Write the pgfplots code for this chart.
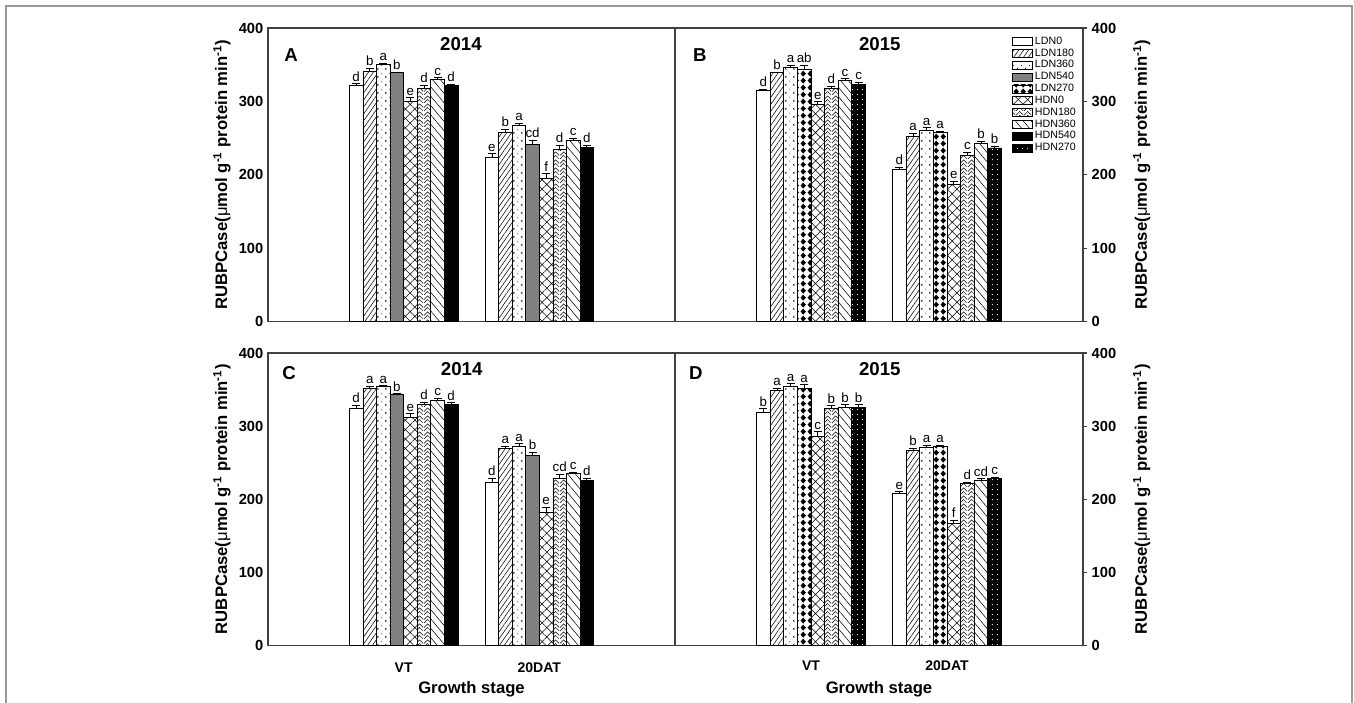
\documentclass[border=0pt]{standalone}
\usepackage{fontspec}
\setmainfont{Liberation Sans}
\usepackage{pgfplots}
\pgfplotsset{compat=1.18}
\usepackage{pgfplotstable}
\usetikzlibrary{patterns,patterns.meta}

\pgfdeclarepatternformonly{ldiam}{\pgfqpoint{0pt}{0pt}}{\pgfqpoint{5pt}{5.5pt}}{\pgfqpoint{5pt}{5.5pt}}{%
  \pgfpathmoveto{\pgfqpoint{2.5pt}{0.3pt}}%
  \pgfpathlineto{\pgfqpoint{4.6pt}{2.75pt}}%
  \pgfpathlineto{\pgfqpoint{2.5pt}{5.2pt}}%
  \pgfpathlineto{\pgfqpoint{0.4pt}{2.75pt}}%
  \pgfpathclose\pgfusepath{fill}}
\pgfdeclarepatternformonly{lmarks}{\pgfqpoint{0pt}{0pt}}{\pgfqpoint{6pt}{6pt}}{\pgfqpoint{6pt}{6pt}}{%
  \pgfsetlinewidth{0.4pt}%
  \pgfpathmoveto{\pgfqpoint{2pt}{2.6pt}}\pgfpathlineto{\pgfqpoint{1pt}{1.8pt}}\pgfpathlineto{\pgfqpoint{2pt}{1pt}}%
  \pgfusepath{stroke}%
  \pgfpathcircle{\pgfqpoint{4.5pt}{4.5pt}}{0.4pt}\pgfusepath{fill}}
\pgfdeclarepatternformonly{hchev}{\pgfqpoint{0pt}{0pt}}{\pgfqpoint{6pt}{6pt}}{\pgfqpoint{6pt}{6pt}}{%
  \pgfsetlinewidth{0.4pt}%
  \pgfpathmoveto{\pgfqpoint{0pt}{0pt}}\pgfpathlineto{\pgfqpoint{3pt}{3pt}}\pgfpathlineto{\pgfqpoint{6pt}{0pt}}%
  \pgfpathmoveto{\pgfqpoint{0pt}{3pt}}\pgfpathlineto{\pgfqpoint{3pt}{6pt}}\pgfpathlineto{\pgfqpoint{6pt}{3pt}}%
  \pgfusepath{stroke}}

\tikzset{
  sL0/.style={draw=black, fill=white},
  sL180/.style={draw=black, pattern={Lines[angle=55,distance=3pt,line width=0.4pt]}},
  sL360/.style={draw=black, pattern=lmarks},
  sL540/.style={draw=black, fill=black!50},
  sL270/.style={draw=black, pattern=ldiam},
  sH0/.style={draw=black, pattern={Hatch[angle=45,distance=5pt,line width=0.4pt]}},
  sH180/.style={draw=black, pattern=hchev},
  sH360/.style={draw=black, pattern={Lines[angle=-50,distance=4.5pt,line width=0.4pt]}},
  sH540/.style={draw=black, fill=black},
  sH270/.style={draw=black, fill=black, postaction={pattern={Dots[distance=4pt,radius=0.45pt]}, pattern color=white}},
}

% 2014, VT (x=1) and 20DAT (x=2): value, error, letter
\pgfplotstableread{
x L0 L0e L0l L180 L180e L180l L360 L360e L360l L540 L540e L540l H0 H0e H0l H180 H180e H180l H360 H360e H360l H540 H540e H540l
1 322 2 d 341 4 b 351 1.5 a 339.5 0.5 b 300 5 e 318 4 d 329.5 3 c 321.5 2 d
2 224 5 e 258 4 b 267 3 a 241 6 cd 195.5 6 f 234 6 d 247 3 c 237 3 d
}\tabA
% 2015
\pgfplotstableread{
x L0 L0e L0l L180 L180e L180l L360 L360e L360l L270 L270e L270l H0 H0e H0l H180 H180e H180l H360 H360e H360l H270 H270e H270l
1 315 2 d 339 1 b 346 3 a 344 5 ab 296.5 3 e 318 3 d 329 2 c 323.5 2.5 c
2 207 3 d 253 4 a 260 4 a 258 1 a 187.5 4 e 226 5 c 243 3 b 236.5 2.5 b
}\tabB
% 2014 (C)
\pgfplotstableread{
x L0 L0e L0l L180 L180e L180l L360 L360e L360l L540 L540e L540l H0 H0e H0l H180 H180e H180l H360 H360e H360l H540 H540e H540l
1 324 5 d 351.5 3.5 a 354 1.5 a 344 0.5 b 312 5 e 329.5 3 d 335.5 2.5 c 329.5 2.5 d
2 223 6 d 269.5 3.5 a 273 3 a 259.5 4.5 b 182 7 e 229 5 cd 235 2.5 c 226 2.5 d
}\tabC
% 2015 (D)
\pgfplotstableread{
x L0 L0e L0l L180 L180e L180l L360 L360e L360l L270 L270e L270l H0 H0e H0l H180 H180e H180l H360 H360e H360l H270 H270e H270l
1 318.5 5.5 b 349 3 a 354 4 a 352 4.5 a 286.5 6 c 324.5 3.5 b 325.5 4 b 326 3.5 b
2 207.5 2.7 e 266.5 3.3 b 270.5 3.5 a 272 2 a 166.5 5 f 222 1.5 d 226.5 1.5 cd 228 2.3 c
}\tabD

\newcommand{\bars}[2]{\addplot[s#1, visualization depends on={\thisrow{#1e}\as\myerr}] table[x=x,y=#1,y error=#1e,meta=#1l]{#2};}

\pgfplotsset{
  panel/.style={
    scale only axis,
    ybar=0pt, bar width=0.1,
    xmin=0, xmax=3, ymin=0, ymax=400,
    ytick={0,100,200,300,400},
    axis line style={draw=black!75, line width=0.9pt},
    every axis plot/.append style={line width=0.5pt},
    error bars/y dir=plus, error bars/y explicit,
    error bars/error bar style={black, line width=0.5pt},
    error bars/error mark options={rotate=90, mark size=3pt, line width=0.5pt, black},
    point meta=explicit symbolic,
    nodes near coords,
    nodes near coords style={font=\fontsize{10}{11}\selectfont, anchor=south, inner sep=1.5pt, yshift=\myerr*0.55pt, black},
    /pgf/number format/assume math mode=true,
    yticklabel style={font=\bfseries\fontsize{11}{13}\selectfont},
    ylabel={RUBPCase({\mdseries μ}mol g\textsuperscript{-1} protein min\textsuperscript{-1})},
    ylabel style={font=\bfseries\fontsize{12.5}{14}\selectfont, anchor=center},
  },
  leftp/.style={ytick pos=left, ytick style={draw=none},
    ylabel style={at={(axis description cs:-0.113,0.5)}}},
  rightp/.style={ytick pos=right, yticklabel pos=right, tick align=outside, major tick length=3pt,
    ytick style={draw=black!75, line width=0.8pt},
    ylabel style={at={(axis description cs:1.144,0.5)}}},
  topp/.style={xtick=\empty},
  botp/.style={xtick={1,2}, xticklabels={VT,20DAT}, xtick style={draw=none},
    xticklabel style={font=\bfseries\fontsize{10.5}{12}\selectfont, anchor=center, yshift=-12.5pt},
    xlabel={Growth stage},
    xlabel style={font=\bfseries\fontsize{12.5}{14}\selectfont, at={(axis description cs:0.5,0)}, anchor=center, yshift=-33pt}},
}

\begin{document}
\begin{tikzpicture}
\useasboundingbox (0,0) rectangle (1015.5pt,-527.25pt);
\draw[black!40, line width=1.2pt] (4.5pt,-527.25pt) -- (4.5pt,-4.5pt) -- (1014pt,-4.5pt) -- (1014pt,-527.25pt);

% A
\begin{axis}[panel, leftp, topp, at={(201pt,-241.125pt)}, anchor=south west, width=305.25pt, height=220.125pt]
\bars{L0}{\tabA}\bars{L180}{\tabA}\bars{L360}{\tabA}\bars{L540}{\tabA}
\bars{H0}{\tabA}\bars{H180}{\tabA}\bars{H360}{\tabA}\bars{H540}{\tabA}
\node[font=\bfseries\fontsize{14}{16}\selectfont] at (rel axis cs:0.474,0.945) {2014};
\node[font=\bfseries\fontsize{14}{16}\selectfont] at (rel axis cs:0.057,0.908) {A};
\end{axis}

% B
\begin{axis}[panel, rightp, topp, at={(506.25pt,-241.125pt)}, anchor=south west, width=306pt, height=220.125pt]
\bars{L0}{\tabB}\bars{L180}{\tabB}\bars{L360}{\tabB}\bars{L270}{\tabB}
\bars{H0}{\tabB}\bars{H180}{\tabB}\bars{H360}{\tabB}\bars{H270}{\tabB}
\node[font=\bfseries\fontsize{14}{16}\selectfont] at (rel axis cs:0.502,0.945) {2015};
\node[font=\bfseries\fontsize{14}{16}\selectfont] at (rel axis cs:0.061,0.908) {B};
\end{axis}

% legend of B
\begin{axis}[scale only axis, hide axis, at={(506.25pt,-241.125pt)}, anchor=south west, width=306pt, height=220.125pt,
  xmin=0, xmax=1, ymin=0, ymax=1,
  legend style={draw=none, fill=none, at={(rel axis cs:0.826,0.978)}, anchor=north west,
    font=\fontsize{8}{9}\selectfont, row sep=-1.2pt, inner sep=0pt, nodes={inner sep=1.5pt}},
  legend cell align=left,
  legend image code/.code={\draw[#1, line width=0.5pt] (0pt,-3pt) rectangle (15pt,3pt);}]
\addlegendimage{sL0}\addlegendimage{sL180}\addlegendimage{sL360}\addlegendimage{sL540}\addlegendimage{sL270}
\addlegendimage{sH0}\addlegendimage{sH180}\addlegendimage{sH360}\addlegendimage{sH540}\addlegendimage{sH270}
\legend{LDN0,LDN180,LDN360,LDN540,LDN270,HDN0,HDN180,HDN360,HDN540,HDN270}
\end{axis}

% C
\begin{axis}[panel, leftp, botp, at={(201pt,-484.125pt)}, anchor=south west, width=305.25pt, height=219.375pt]
\bars{L0}{\tabC}\bars{L180}{\tabC}\bars{L360}{\tabC}\bars{L540}{\tabC}
\bars{H0}{\tabC}\bars{H180}{\tabC}\bars{H360}{\tabC}\bars{H540}{\tabC}
\node[font=\bfseries\fontsize{14}{16}\selectfont] at (rel axis cs:0.476,0.945) {2014};
\node[font=\bfseries\fontsize{14}{16}\selectfont] at (rel axis cs:0.052,0.932) {C};
\end{axis}

% D
\begin{axis}[panel, rightp, botp, at={(506.25pt,-484.125pt)}, anchor=south west, width=306pt, height=219.375pt]
\bars{L0}{\tabD}\bars{L180}{\tabD}\bars{L360}{\tabD}\bars{L270}{\tabD}
\bars{H0}{\tabD}\bars{H180}{\tabD}\bars{H360}{\tabD}\bars{H270}{\tabD}
\node[font=\bfseries\fontsize{14}{16}\selectfont] at (rel axis cs:0.502,0.945) {2015};
\node[font=\bfseries\fontsize{14}{16}\selectfont] at (rel axis cs:0.051,0.932) {D};
\end{axis}
\end{tikzpicture}
\end{document}
